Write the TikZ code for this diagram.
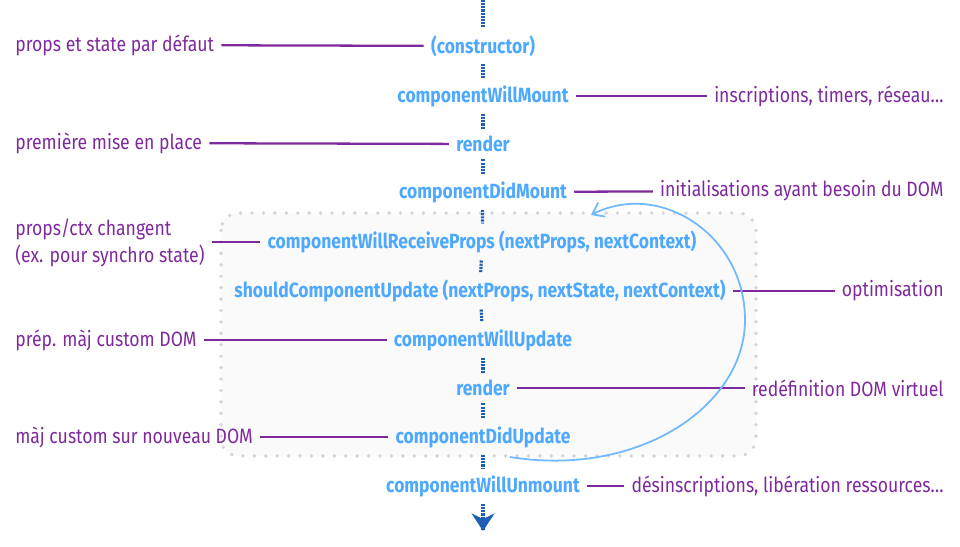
\documentclass[tikz,border=0pt]{standalone}
\usepackage{fontspec}
\setmainfont{Fira Sans}
\newfontfamily\methfont[FakeStretch=0.85]{Fira Sans}
\newfontfamily\notefont[FakeStretch=0.85]{Fira Sans}
\usetikzlibrary{arrows.meta,positioning}
\definecolor{methblue}{HTML}{4DA8FF}
\definecolor{flowblue}{HTML}{1F5FB4}
\definecolor{notepurple}{HTML}{7E2A9C}
\definecolor{boxgray}{HTML}{D6D6D6}
\definecolor{boxfill}{HTML}{FAFAFA}

\tikzset{
  method/.style={text=methblue, font=\methfont\bfseries\fontsize{11.7}{14}\selectfont, inner sep=4pt},
  note/.style={text=notepurple, font=\notefont\fontsize{11.8}{15}\selectfont, inner sep=4pt, align=left},
  hook/.style={draw=notepurple, line width=1.3pt},
  flow/.style={draw=flowblue, line width=1.8pt, dash pattern=on 1.2pt off 0.6pt},
}

\begin{document}
\begin{tikzpicture}[x=0.02cm,y=-0.02cm]
    \useasboundingbox (0,0) rectangle (960,547);

    % update zone
    \draw[boxgray, fill=boxfill, line width=2.2pt, line cap=round,
          dash pattern=on 0pt off 6.5pt, rounded corners=10pt] (221,213) rectangle (756,456);

    % lifecycle methods
    \node[method] (ctor)   at (483,46)  {(constructor)};
    \node[method] (cwm)    at (483,96)  {componentWillMount};
    \node[method] (render) at (483,144) {render};
    \node[method] (cdm)    at (483,192) {componentDidMount};
    \node[method] (cwrp)   at (482,242) {componentWillReceiveProps (nextProps, nextContext)};
    \node[method] (scu)    at (480,291) {shouldComponentUpdate (nextProps, nextState, nextContext)};
    \node[method] (cwu)    at (483,340) {componentWillUpdate};
    \node[method] (rerender) at (483,388) {render};
    \node[method] (cdu)    at (483,437) {componentDidUpdate};
    \node[method] (cwum)   at (483,486) {componentWillUnmount};

    % flow
    \coordinate (start) at (483,0);
    \coordinate (finish) at (483,530);
    \draw[flow] (start) -- (ctor);
    \draw[flow] (ctor) -- (cwm);
    \draw[flow] (cwm) -- (render);
    \draw[flow] (render) -- (cdm);
    \draw[flow] (cdm) -- (cwrp);
    \draw[flow] (cwrp) -- (scu);
    \draw[flow] (scu) -- (cwu);
    \draw[flow] (cwu) -- (rerender);
    \draw[flow] (rerender) -- (cdu);
    \draw[flow] (cdu) -- (cwum);
    \draw[flow] (cwum) -- (finish);
    \draw[draw=flowblue, line width=1.8pt, -{Stealth[length=10pt,width=13pt]}] (finish) -- (483,531);

    % notes on the left
    \node[note, anchor=west] (n-ctor)   at (8,45)  {props et state par défaut};
    \node[note, anchor=west] (n-render) at (8,143) {première mise en place};
    \node[note, anchor=west] (n-cwrp)   at (8,243) {props/ctx changent\\(ex. pour synchro state)};
    \node[note, anchor=west] (n-cwu)    at (8,340) {prép. màj custom DOM};
    \node[note, anchor=west] (n-cdu)    at (8,437) {màj custom sur nouveau DOM};

    % notes on the right
    \node[note, anchor=east] (n-cwm)    at (951,96)  {inscriptions, timers, réseau…};
    \node[note, anchor=east] (n-cdm)    at (951,191) {initialisations ayant besoin du DOM};
    \node[note, anchor=east] (n-scu)    at (951,291) {optimisation};
    \node[note, anchor=east] (n-rerender) at (951,388) {redéfinition DOM virtuel};
    \node[note, anchor=east] (n-cwum)   at (951,486) {désinscriptions, libération ressources…};

    \draw[hook] (n-ctor) -- (ctor);
    \draw[hook] (n-render) -- (render);
    \draw[hook] (n-cwrp.east |- cwrp) -- (cwrp);
    \draw[hook] (n-cwu) -- (cwu);
    \draw[hook] (n-cdu) -- (cdu);
    \draw[hook] (cwm) -- (n-cwm);
    \draw[hook] (cdm) -- (n-cdm);
    \draw[hook] (scu) -- (n-scu);
    \draw[hook] (rerender) -- (n-rerender);
    \draw[hook] (cwum) -- (n-cwum);

    % loop back
    \coordinate (loopfrom) at (510,457);
    \coordinate (loopto) at (591,215);
    \draw[methblue!80, line width=1pt, -{Straight Barb[length=6pt,width=9pt]}]
        (loopfrom) .. controls (640,478) and (745,405) .. (745,320)
        .. controls (745,235) and (660,180) .. (loopto);
\end{tikzpicture}
\end{document}
